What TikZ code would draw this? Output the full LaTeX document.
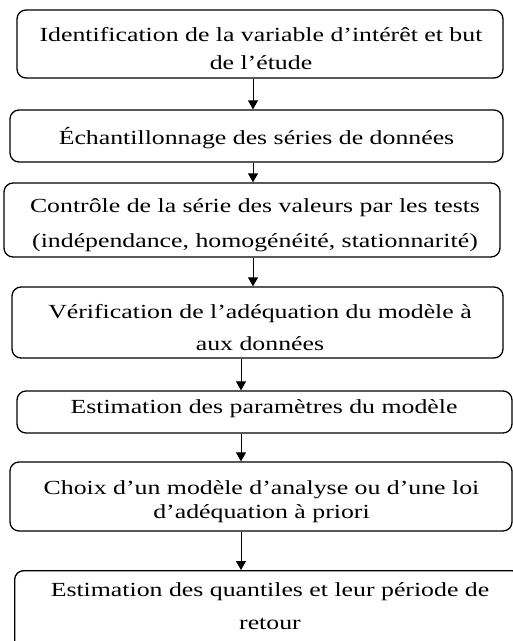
\documentclass[tikz,border=0pt]{standalone}
\usepackage{fontspec}
\setmainfont[FakeStretch=1.29]{Liberation Serif}
\usetikzlibrary{arrows.meta}
\begin{document}
\begin{tikzpicture}[x=1pt,y=-1pt,
  boxstyle/.style={draw=black,line width=1.3pt,rounded corners=9pt,inner sep=0pt},
  txt/.style={align=center,inner sep=0pt},
  arr/.style={draw=black,line width=1pt,-{Triangle[width=10pt,length=9pt]}}]
\useasboundingbox (0,0) rectangle (513,641);
\clip (0,0) rectangle (513,641);
% boxes
\node[boxstyle,minimum width=486pt,minimum height=68pt] (b1) at (260,44) {};
\node[boxstyle,minimum width=493pt,minimum height=52pt] (b2) at (256.5,136) {};
\node[boxstyle,minimum width=496pt,minimum height=74pt] (b3) at (252,220) {};
\node[boxstyle,minimum width=491pt,minimum height=71pt] (b4) at (257.5,322.5) {};
\node[boxstyle,minimum width=495pt,minimum height=42pt] (b5) at (264.5,412) {};
\node[boxstyle,minimum width=502pt,minimum height=69pt] (b6) at (261,496.5) {};
\node[boxstyle,minimum width=506pt,minimum height=110pt,anchor=north west] (b7) at (14,570) {};
% texts
\node[txt,font=\fontsize{20}{28}\selectfont] (t1) at (261,49)
  {Identification de la variable d’intérêt et but\\de l’étude};
\node[txt,font=\fontsize{20}{28}\selectfont] (t2) at (256.5,138)
  {Échantillonnage des séries de données};
\node[txt,font=\fontsize{20}{35}\selectfont] (t3) at (255,225)
  {Contrôle de la série des valeurs par les tests\\(indépendance, homogénéité, stationnarité)};
\node[txt,font=\fontsize{20}{32}\selectfont] (t4) at (260,328)
  {Vérification de l’adéquation du modèle à\\aux données};
\node[txt,font=\fontsize{20}{28}\selectfont] (t5) at (264,409)
  {Estimation des paramètres du modèle};
\node[txt,font=\fontsize{20}{24}\selectfont] (t6) at (261.5,502)
  {Choix d’un modèle d’analyse ou d’une loi\\d’adéquation à priori};
\node[txt,font=\fontsize{20}{33}\selectfont] (t7) at (270,606)
  {Estimation des quantiles et leur période de\\retour};
% connectors
\coordinate (xa) at (253,0);
\coordinate (xb) at (241,0);
\draw[arr] (b1.south -| xa) -- (b2.north -| xa);
\draw[arr] (b2.south -| xa) -- (b3.north -| xa);
\draw[arr] (b3.south -| xa) -- (b4.north -| xa);
\draw[arr] (b4.south -| xb) -- (b5.north -| xb);
\draw[arr] (b5.south -| xb) -- (b6.north -| xb);
\draw[arr] (b6.south -| xb) -- (b7.north -| xb);
\end{tikzpicture}
\end{document}
